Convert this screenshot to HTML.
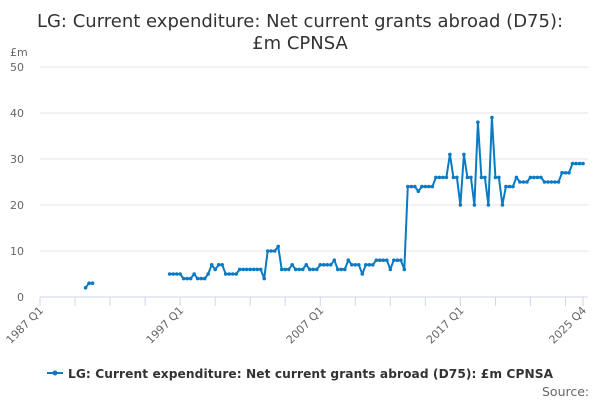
<!DOCTYPE html>
<html><head><meta charset="utf-8"><style>
body{margin:0;width:600px;height:400px;background:#fff;font-family:"Liberation Sans","DejaVu Sans",sans-serif;overflow:hidden}
</style></head><body>
<svg id="chart" width="600" height="400" xmlns="http://www.w3.org/2000/svg" style="font-family:'DejaVu Sans','Liberation Sans',sans-serif">
<text x="300" y="27" text-anchor="middle" font-size="18" fill="#333">LG: Current expenditure: Net current grants abroad (D75):</text>
<text x="300" y="49" text-anchor="middle" font-size="18" fill="#333">£m CPNSA</text>
<text x="10" y="56" font-size="11" fill="#666">£m</text>
<g id="grid"></g><g id="xaxis"></g><g id="series"></g>
<g>
<line x1="47" y1="373" x2="63" y2="373" stroke="#0a7ac2" stroke-width="2"/>
<circle cx="55" cy="373" r="2.5" fill="#0a7ac2"/>
<text x="68" y="378" font-size="12.2" font-weight="bold" fill="#333" textLength="485">LG: Current expenditure: Net current grants abroad (D75): £m CPNSA</text>
</g>
<text x="542" y="396" font-size="12.5" fill="#666">Source:</text>
</svg>
<script>
const startQuarter = "1987 Q1";
const yTicks = [0,10,20,30,40,50];
const xLabels = ["1987 Q1","1997 Q1","2007 Q1","2017 Q1","2025 Q4"];
const xLabelIdx = [0,40,80,120,155];
const seg1Start = 13;
const seg1 = [2,3,3];
const seg2Start = 37;
const seg2 = [5,5,5,5,4,4,4,5,4,4,4,5,7,6,7,7,5,5,5,5,6,6,6,6,6,6,6,4,10,10,10,11,6,6,6,7,6,6,6,7,6,6,6,7,7,7,7,8,6,6,6,8,7,7,7,5,7,7,7,8,8,8,8,6,8,8,8,6,
24,24,24,23,24,24,24,24,26,26,26,26,31,26,26,20,31,26,26,20,38,26,26,20,39,26,26,20,24,24,24,26,25,25,25,26,26,26,26,25,25,25,25,25,27,27,27,29,29,29,29];
const NS="http://www.w3.org/2000/svg";
const x0=40,x1=583,nQ=155,yBase=297,yTop=67;
const xs=i=>x0+i*(x1-x0)/nQ, ys=v=>yBase-v*(yBase-yTop)/50;
function mk(t,a,p){const e=document.createElementNS(NS,t);for(const k in a)e.setAttribute(k,a[k]);p.appendChild(e);return e;}
const grid=document.getElementById('grid');
yTicks.forEach(v=>{
  const l=mk('line',{x1:x0,x2:x1+5,y1:ys(v),y2:ys(v),stroke:v===0?'#ccd6eb':'#e6e6e6','stroke-width':1},grid);
  
  
  const t=mk('text',{x:24,y:ys(v)+4,'text-anchor':'end','font-size':11,fill:'#666'},grid);
  t.textContent=v;
  
  
});
const xa=document.getElementById('xaxis');
for(let i=0;i<=nQ;i+=(i===150?5:10)){
  const l=mk('line',{x1:xs(i),x2:xs(i),y1:yBase,y2:yBase+9,stroke:'#ccd6eb'},xa);
  
  
}
xLabels.forEach((s,k)=>{
  const x=xs(xLabelIdx[k]);
  const t=mk('text',{x:x+4,y:yBase+14,'text-anchor':'end','font-size':11,fill:'#666',transform:`rotate(-45 ${x+4} ${yBase+14})`},xa);
  t.textContent=s;
  
  
});
const sg=document.getElementById('series');
[[seg1Start,seg1],[seg2Start,seg2]].forEach(([st,arr])=>{
  const pts=arr.map((v,j)=>xs(st+j).toFixed(1)+','+ys(v).toFixed(1)).join(' ');
  const pl=mk('polyline',{points:pts,fill:'none',stroke:'#0a7ac2','stroke-width':2,'stroke-linejoin':'round'},sg);
  
  
  arr.forEach((v,j)=>{
    const c=mk('circle',{cx:xs(st+j),cy:ys(v),r:1.8,fill:'#0a7ac2'},sg);
    
    
  });
});
</script>
</body></html>
